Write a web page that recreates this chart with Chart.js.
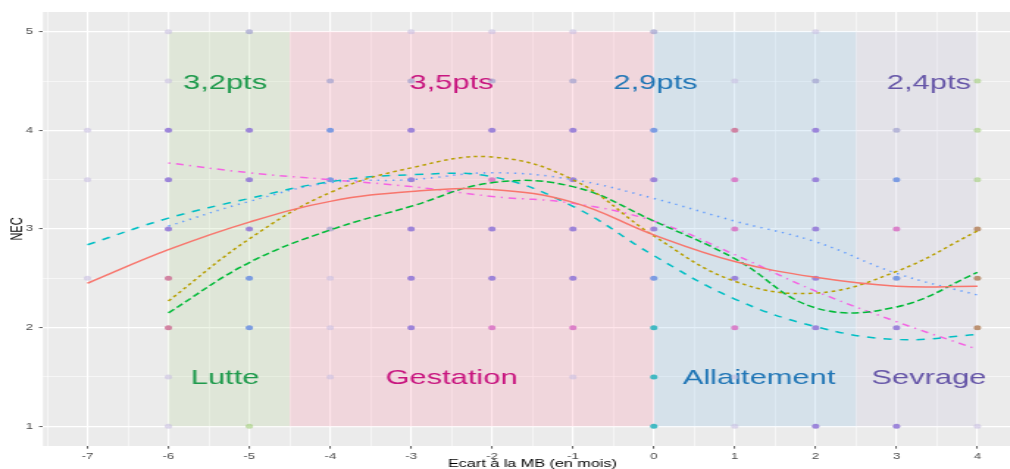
<!DOCTYPE html>
<html><head><meta charset="utf-8">
<script src="https://cdn.jsdelivr.net/npm/chart.js@4.4.1/dist/chart.umd.min.js"></script>
<style>
html,body{margin:0;padding:0;background:#fff;overflow:hidden;width:1010px;height:469px}
#wrap{position:absolute;left:0;top:0;width:700px;height:480px;transform:scaleX(1.47);transform-origin:0 0}
</style></head><body>
<div id="wrap"><canvas id="c" width="700" height="480"></canvas></div>
<script>
// ---- data ----
const months = [-7,-6,-5,-4,-3,-2,-1,0,1,2,3,4];
const serie1 = [2.45,2.79,3.07,3.28,3.38,3.40,3.27,2.94,2.67,2.51,2.42,2.42];
const serie2 = [null,2.27,2.90,3.37,3.62,3.73,3.50,2.93,2.47,2.35,2.57,2.98];
const serie3 = [null,2.15,2.66,2.99,3.23,3.47,3.43,3.08,2.70,2.20,2.21,2.56];
const serie4 = [2.84,3.11,3.31,3.48,3.55,3.53,3.23,2.73,2.29,2.01,1.88,1.93];
const serie5 = [null,3.03,3.28,3.47,3.50,3.57,3.50,3.31,3.08,2.87,2.55,2.33];
const serie6 = [null,3.67,3.57,3.50,3.43,3.33,3.26,3.08,2.74,2.37,2.06,1.78];

const obsX = [-7,-7,-7, -6,-6,-6,-6,-6,-6,-6,-6,-6, -5,-5,-5,-5,-5,-5,-5, -4,-4,-4,-4,-4,-4,-4,
  -3,-3,-3,-3,-3,-3,-3, -2,-2,-2,-2,-2,-2,-2, -1,-1,-1,-1,-1,-1,-1,-1, 0,0,0,0,0,0,0,0,
  1,1,1,1,1,1,1,1, 2,2,2,2,2,2,2,2, 3,3,3,3,3,3, 4,4,4,4,4,4,4];
const obsY = [4,3.5,2.5, 5,4.5,4,3.5,3,2.5,2,1.5,1, 5,4,3.5,3,2.5,2,1, 4.5,4,3.5,3,2.5,2,1.5,
  5,4.5,4,3.5,3,2.5,2, 5,4.5,4,3.5,3,2.5,2, 5,4.5,4,3.5,3,2.5,2,1.5, 5,4,3.5,3,2.5,2,1.5,1,
  4.5,4,3.5,3,2.5,2,1.5,1, 5,4.5,4,3.5,3,2.5,2,1, 4,3.5,3,2.5,2,1, 4.5,4,3.5,3,2.5,2,1];
const obsTone = "FFF"+"FFPPPRRFF"+"GPPPBBY"+"GBBGFFF"+"FGPPPPP"+"FGPKPPK"+"FGPPPPKF"+"GBPPBTTT"+
  "FRKKPKFF"+"FGPPPPPP"+"GBKBPP"+"YYYOOOF";

const xTickLabels = months.map(String);
const yTickLabels = ["1","2","3","4","5"];
const phaseNames = ["Lutte","Gestation","Allaitement","Sevrage"];
const phaseScores = ["3,2pts","3,5pts","2,9pts","2,4pts"];
const phaseFrom = [-6,-4.5,0,2.5];
const phaseTo = [-4.5,0,2.5,4];

// ---- styles ----
const toneColor = {P:'rgba(148,122,215,0.9)',B:'rgba(112,148,225,0.9)',K:'rgba(215,112,195,0.85)',
  R:'rgba(205,112,148,0.85)',G:'rgba(160,160,205,0.7)',F:'rgba(200,190,225,0.6)',
  T:'rgba(45,180,190,0.9)',Y:'rgba(160,205,120,0.6)',O:'rgba(175,122,82,0.8)'};
const phaseFill = ['rgba(187,215,159,0.25)','rgba(255,150,175,0.25)','rgba(147,195,231,0.25)','rgba(203,199,223,0.25)'];
const phaseText = ['#1e9a4c','#c8157f','#2176b6','#6656a8'];
const nameAt = [[-5.3,1.5],[-2.5,1.5],[1.3,1.5],[3.4,1.5]];
const scoreAt = [[-5.3,4.5],[-2.5,4.5],[0.02,4.5],[3.4,4.5]];

const seriesList = [serie1,serie2,serie3,serie4,serie5,serie6];
const lineColors = ['#F8766D','#B79F00','#00BA38','#00BFC4','#619CFF','#F564E3'];
const dashes = [[],[2.6,2.6],[5.2,2.6],[5.6,5.6],[1.3,3.9],[1.3,3.9,5.2,3.9]];

const lineSets = seriesList.map((s,k)=>({
  type:'line',
  data: months.map((m,i)=>({x:m,y:s[i]})).filter(p=>p.y!==null),
  borderColor: lineColors[k], borderWidth:1.5, borderDash:dashes[k],
  pointRadius:0, fill:false, tension:0.4, order:1
}));
const pointSet = {
  type:'scatter',
  data: obsX.map((x,i)=>({x:x,y:obsY[i]})),
  pointRadius:2.5, pointBorderWidth:0,
  pointBackgroundColor: obsTone.split('').map(t=>toneColor[t]),
  pointBorderColor:'rgba(0,0,0,0)', order:2
};

const bgPlugin = {
  id:'bg',
  beforeDraw(chart){
    const {ctx, chartArea:a} = chart;
    ctx.save(); ctx.fillStyle='#fff'; ctx.fillRect(0,0,chart.width,chart.height);
    ctx.fillStyle='#EBEBEB'; ctx.fillRect(a.left,a.top,a.right-a.left,a.bottom-a.top); ctx.restore();
  },
  beforeDatasetsDraw(chart){
    const {ctx, scales:{x,y}} = chart;
    ctx.save();
    phaseNames.forEach((n,i)=>{
      const x0=x.getPixelForValue(phaseFrom[i]), x1=x.getPixelForValue(phaseTo[i]);
      const y0=y.getPixelForValue(5), y1=y.getPixelForValue(1);
      ctx.fillStyle=phaseFill[i]; ctx.fillRect(x0,y0,x1-x0,y1-y0);
    });
    ctx.font='21px "Liberation Sans", Arial, sans-serif';
    ctx.textAlign='center'; ctx.textBaseline='alphabetic';
    phaseNames.forEach((n,i)=>{
      ctx.fillStyle=phaseText[i];
      ctx.fillText(phaseScores[i], x.getPixelForValue(scoreAt[i][0]), y.getPixelForValue(scoreAt[i][1])+7.5);
      ctx.fillText(n, x.getPixelForValue(nameAt[i][0]), y.getPixelForValue(nameAt[i][1])+7.5);
    });
    ctx.restore();
  }
};

const halfTicks = (a,b)=>{const t=[];for(let v=a;v<=b+1e-9;v+=0.5)t.push({value:Math.round(v*2)/2});return t;};
const isInt = v=>Math.abs(v-Math.round(v))<1e-9;
const gridOpts = {
  color:'#ffffff',
  lineWidth: c=> (c.tick && isInt(c.tick.value)) ? 1.15 : 0.55,
  tickColor: c=> (c.tick && isInt(c.tick.value)) ? '#333333' : 'rgba(0,0,0,0)',
  tickLength: 2.7, tickWidth:0.8, drawTicks:true
};

new Chart(document.getElementById('c'), {
  data:{datasets:[...lineSets, pointSet]},
  options:{
    responsive:false, animation:false, devicePixelRatio:1,
    layout:{padding:{left:0,right:4.8,top:12,bottom:0}},
    plugins:{legend:{display:false},tooltip:{enabled:false}},
    scales:{
      x:{type:'linear', min:-7.55, max:4.55, border:{display:false},
        afterBuildTicks: s=>{ s.ticks = halfTicks(-7.5,4.5); },
        afterFit: s=>{ s.height = 34; },
        grid:gridOpts,
        ticks:{autoSkip:false, maxRotation:0, padding:2, color:'#4d4d4d',
          font:{family:'"Liberation Sans", Arial, sans-serif', size:9},
          callback:v=> isInt(v) ? xTickLabels[months.indexOf(Math.round(v))] : ''},
        title:{display:true, text:'Ecart à la MB (en mois)', color:'#000',
          font:{family:'"Liberation Sans", Arial, sans-serif', size:11}, padding:{top:0,bottom:9.9}}
      },
      y:{type:'linear', min:0.8, max:5.2, border:{display:false},
        afterBuildTicks: s=>{ s.ticks = halfTicks(1,5); },
        afterFit: s=>{ s.width = 29.25; },
        grid:gridOpts,
        ticks:{autoSkip:false, padding:4, color:'#4d4d4d',
          font:{family:'"Liberation Sans", Arial, sans-serif', size:9},
          callback:v=> isInt(v) ? yTickLabels[Math.round(v)-1] : ''},
        title:{display:true, text:'NEC', color:'#000',
          font:{family:'"Liberation Sans", Arial, sans-serif', size:11}, padding:{top:5.5,bottom:0}}
      }
    }
  },
  plugins:[bgPlugin]
});
</script>
</body></html>
